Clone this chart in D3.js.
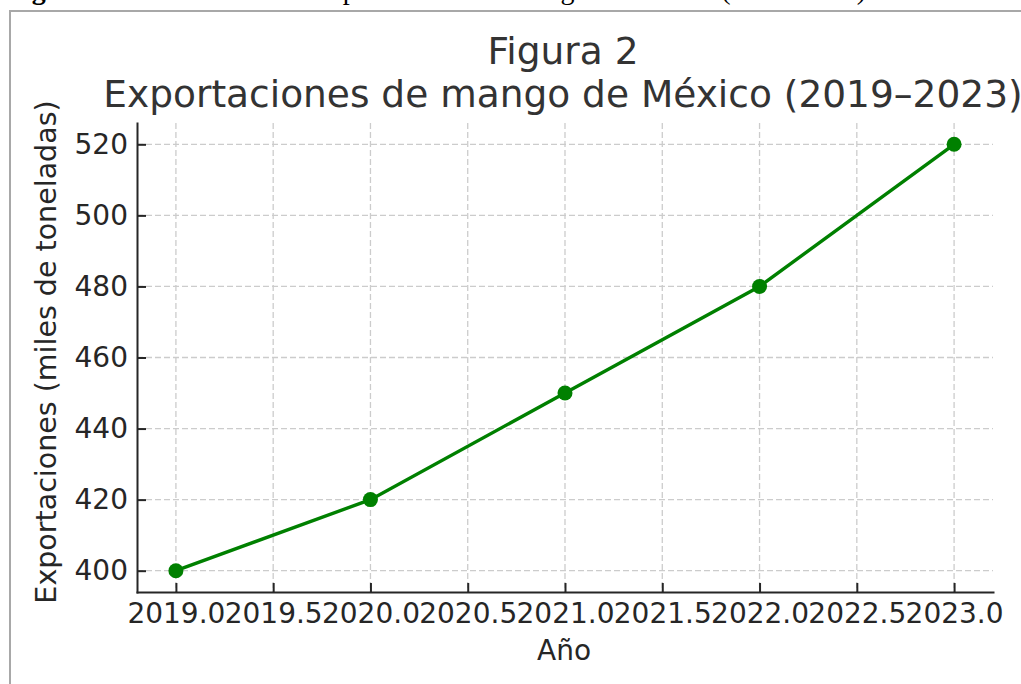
<!DOCTYPE html>
<html>
<head>
<meta charset="utf-8">
<script src="https://cdn.jsdelivr.net/npm/d3@7"></script>
<style>
  body { margin: 0; background: #fff; }
  svg { display: block; font-family: "DejaVu Sans", sans-serif; }
  .tick text { fill: #262626; font-size: 28px; font-family: "DejaVu Sans", sans-serif; }
  .domain, .tick line { stroke: #262626; stroke-width: 2; }
</style>
</head>
<body>
<svg id="mangoChart"></svg>
<script>
// data
const years = [2019, 2020, 2021, 2022, 2023];
const exports = [400, 420, 450, 480, 520];
const xTicks = [2019.0, 2019.5, 2020.0, 2020.5, 2021.0, 2021.5, 2022.0, 2022.5, 2023.0];
const yTicks = [400, 420, 440, 460, 480, 500, 520];

const svgWidth = 1021;
const svgHeight = 684;
const margin = { top: 123, right: 28, bottom: 92, left: 137 };
const width = svgWidth - margin.left - margin.right;
const height = svgHeight - margin.top - margin.bottom;

const svg = d3.select("#mangoChart")
  .attr("width", svgWidth)
  .attr("height", svgHeight);

// caption of the document, mostly cut off at the top
svg.append("text")
  .attr("x", 866)
  .attr("y", -1)
  .attr("text-anchor", "end")
  .style("font-family", "'Liberation Serif', serif")
  .style("font-size", "28px")
  .style("fill", "#000")
  .html('<tspan font-weight="bold">Figura 2.</tspan> Evolución de las exportaciones de mango de México (2019–2023)');

// frame round the picture
svg.append("path")
  .attr("d", "M10,700 L10,11 L1040,11")
  .attr("fill", "none")
  .attr("stroke", "#a8a8a8")
  .attr("stroke-width", 2);

const chart = svg.append("g")
  .attr("transform", "translate(" + margin.left + "," + margin.top + ")");

const xScale = d3.scaleLinear()
  .domain([2018.8, 2023.2])
  .range([0, width]);

const yScale = d3.scaleLinear()
  .domain([394, 526])
  .range([height, 0]);

// dashed grid
chart.append("g")
  .selectAll("line")
  .data(xTicks)
  .enter().append("line")
  .attr("x1", d => xScale(d)).attr("x2", d => xScale(d))
  .attr("y1", 0).attr("y2", height)
  .attr("stroke", "#cccccc")
  .attr("stroke-width", 1.3)
  .attr("stroke-dasharray", "6,3");

chart.append("g")
  .selectAll("line")
  .data(yTicks)
  .enter().append("line")
  .attr("x1", 0).attr("x2", width)
  .attr("y1", d => yScale(d)).attr("y2", d => yScale(d))
  .attr("stroke", "#cccccc")
  .attr("stroke-width", 1.3)
  .attr("stroke-dasharray", "6,3");

// the series
const line = d3.line()
  .x((d, i) => xScale(years[i]))
  .y(d => yScale(d));

chart.append("path")
  .datum(exports)
  .attr("fill", "none")
  .attr("stroke", "#008000")
  .attr("stroke-width", 3.4)
  .attr("d", line);

chart.selectAll(".dot")
  .data(exports)
  .enter().append("circle")
  .attr("class", "dot")
  .attr("cx", (d, i) => xScale(years[i]))
  .attr("cy", d => yScale(d))
  .attr("r", 7.5)
  .attr("fill", "#008000");

// axes with inward ticks, no top / right spines
const xAxis = d3.axisBottom(xScale)
  .tickValues(xTicks)
  .tickFormat(d3.format(".1f"))
  .tickSizeInner(-9)
  .tickSizeOuter(0)
  .tickPadding(11);

chart.append("g")
  .attr("class", "x-axis")
  .attr("transform", "translate(0," + height + ")")
  .call(xAxis);

const yAxis = d3.axisLeft(yScale)
  .tickValues(yTicks)
  .tickSizeInner(-9)
  .tickSizeOuter(0)
  .tickPadding(9);

chart.append("g")
  .attr("class", "y-axis")
  .call(yAxis);

chart.selectAll(".domain").attr("stroke-linecap", "square");

// titles
const title = svg.append("text")
  .attr("text-anchor", "middle")
  .style("font-size", "37.5px")
  .style("fill", "#333");
title.append("tspan").attr("x", 563).attr("y", 64).text("Figura 2");
title.append("tspan").attr("x", 563).attr("y", 107).text("Exportaciones de mango de México (2019–2023)");

svg.append("text")
  .attr("x", 564)
  .attr("y", 660)
  .attr("text-anchor", "middle")
  .style("font-size", "28px")
  .style("fill", "#262626")
  .text("Año");

svg.append("text")
  .attr("transform", "translate(56,352) rotate(-90)")
  .attr("text-anchor", "middle")
  .style("font-size", "28.5px")
  .style("fill", "#262626")
  .text("Exportaciones (miles de toneladas)");
</script>
</body>
</html>
